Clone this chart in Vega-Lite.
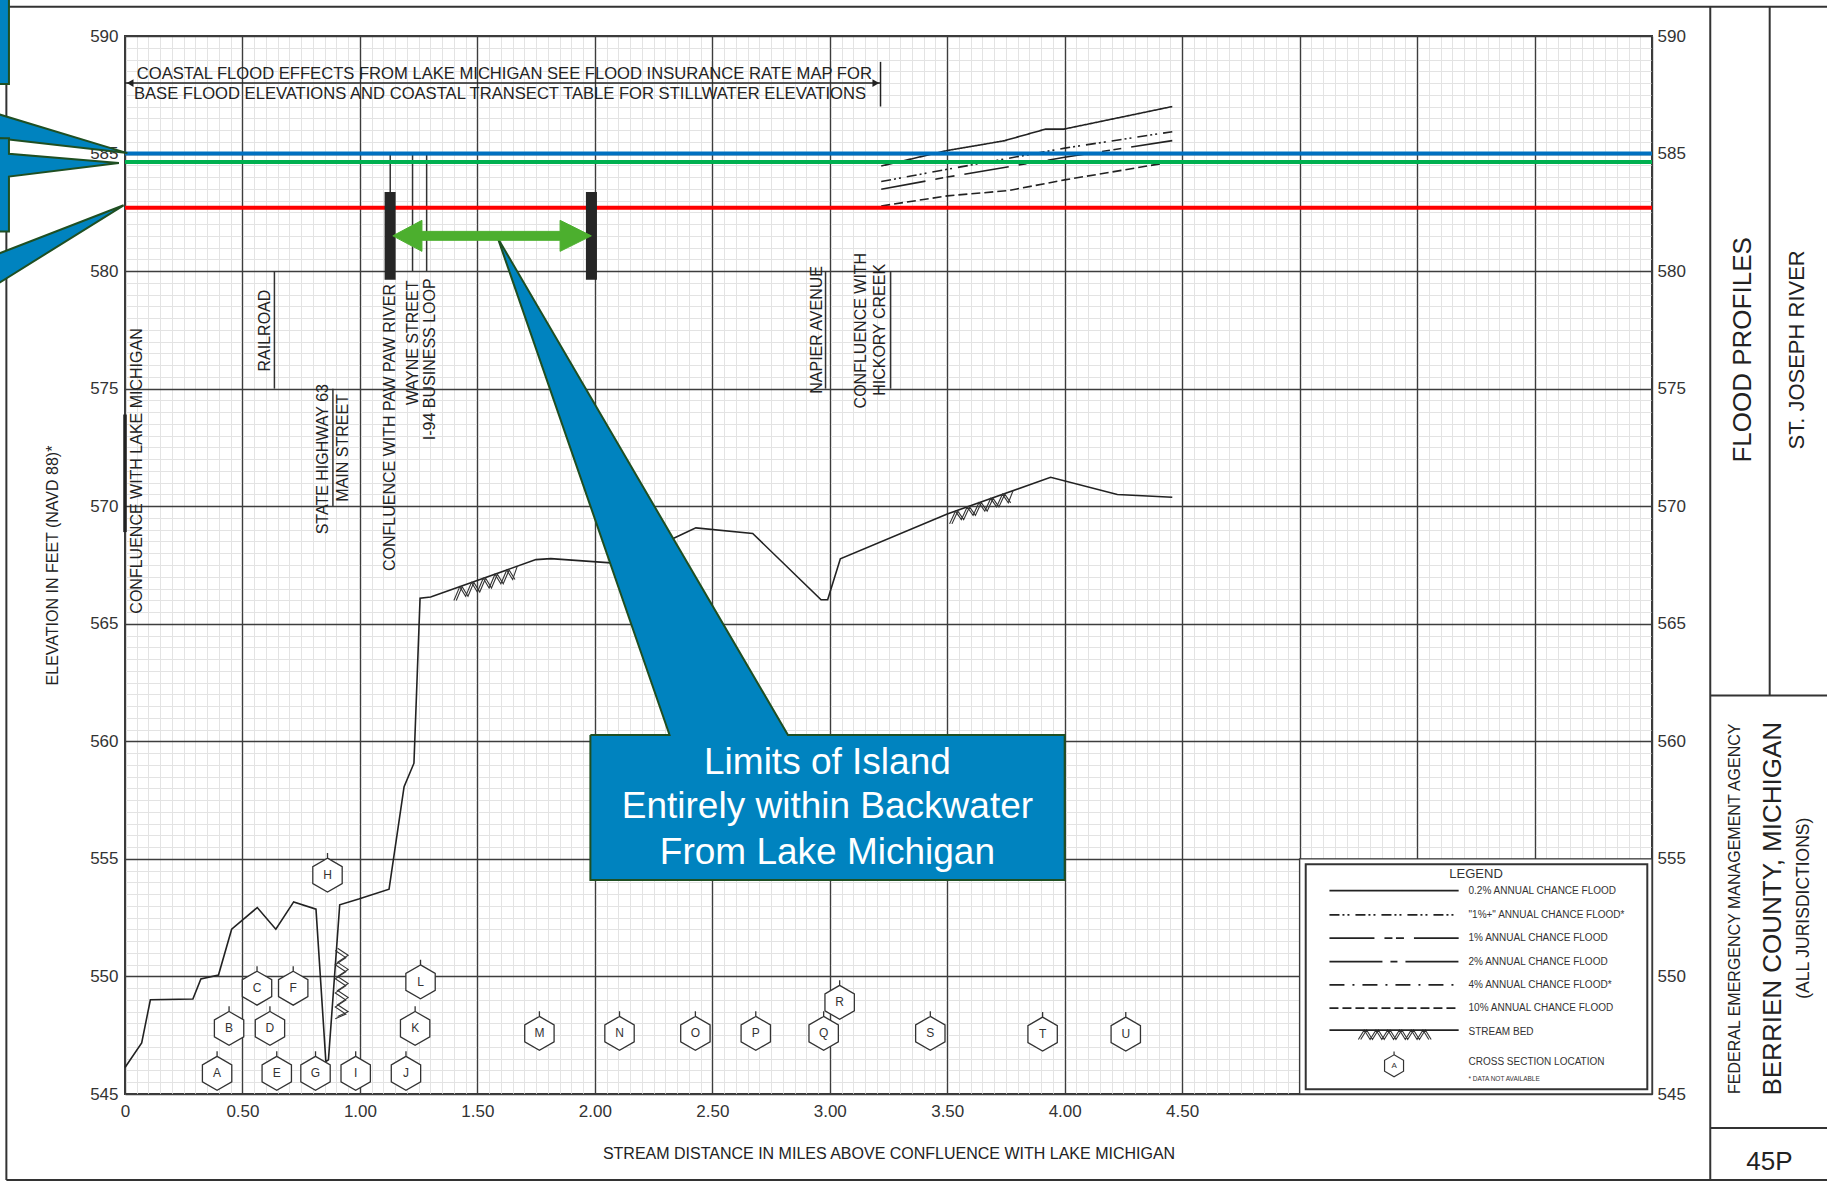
{
"$schema":"https://vega.github.io/schema/vega-lite/v6.json",
"width":1527,"height":1058,
"autosize":{"type":"none"},
"padding":{"left":125,"top":36,"right":175,"bottom":88},
"background":"#ffffff",
"config":{"font":"Liberation Sans","view":{"stroke":"#3a3a3a","strokeWidth":2},"axis":{"labelFont":"Liberation Sans","titleFont":"Liberation Sans"},"text":{"font":"Liberation Sans"}},
"resolve":{"axis":{"x":"independent","y":"independent"}},
"datasets":{
"bed":[{"i":1,"x":0,"y":546.13},{"i":2,"x":0.071,"y":547.17},{"i":3,"x":0.108,"y":549.01},{"i":4,"x":0.289,"y":549.04},{"i":5,"x":0.323,"y":549.89},{"i":6,"x":0.398,"y":550.06},{"i":7,"x":0.454,"y":552.01},{"i":8,"x":0.563,"y":552.93},{"i":9,"x":0.642,"y":552.01},{"i":10,"x":0.718,"y":553.17},{"i":11,"x":0.813,"y":552.86},{"i":12,"x":0.855,"y":546.38},{"i":13,"x":0.866,"y":546.45},{"i":14,"x":0.914,"y":553.05},{"i":15,"x":0.995,"y":553.29},{"i":16,"x":1.124,"y":553.71},{"i":17,"x":1.188,"y":558.07},{"i":18,"x":1.23,"y":559.07},{"i":19,"x":1.256,"y":566.09},{"i":20,"x":1.301,"y":566.14},{"i":21,"x":1.749,"y":567.73},{"i":22,"x":1.8125,"y":567.77},{"i":23,"x":2.068,"y":567.59},{"i":24,"x":2.338,"y":568.65},{"i":25,"x":2.43,"y":569.08},{"i":26,"x":2.672,"y":568.84},{"i":27,"x":2.963,"y":566.02},{"i":28,"x":2.991,"y":566.02},{"i":29,"x":3.045,"y":567.76},{"i":30,"x":3.5,"y":569.67},{"i":31,"x":3.94,"y":571.23},{"i":32,"x":4.224,"y":570.5},{"i":33,"x":4.458,"y":570.38}],
"hatch":[
{"g":"h1a","i":1,"x":0.895,"y":551.1},{"g":"h1a","i":2,"x":0.94,"y":550.8},{"g":"h1a","i":3,"x":0.895,"y":550.5},{"g":"h1a","i":4,"x":0.94,"y":550.2},{"g":"h1a","i":5,"x":0.895,"y":549.9},{"g":"h1a","i":6,"x":0.94,"y":549.6},{"g":"h1a","i":7,"x":0.895,"y":549.3},{"g":"h1a","i":8,"x":0.94,"y":549.0},{"g":"h1a","i":9,"x":0.895,"y":548.7},{"g":"h1a","i":10,"x":0.94,"y":548.4},{"g":"h1a","i":11,"x":0.895,"y":548.2},
{"g":"h1b","i":1,"x":0.905,"y":551.2},{"g":"h1b","i":2,"x":0.95,"y":550.9},{"g":"h1b","i":3,"x":0.905,"y":550.6},{"g":"h1b","i":4,"x":0.95,"y":550.3},{"g":"h1b","i":5,"x":0.905,"y":550.0},{"g":"h1b","i":6,"x":0.95,"y":549.7},{"g":"h1b","i":7,"x":0.905,"y":549.4},{"g":"h1b","i":8,"x":0.95,"y":549.1},{"g":"h1b","i":9,"x":0.905,"y":548.8},{"g":"h1b","i":10,"x":0.95,"y":548.5},{"g":"h1b","i":11,"x":0.905,"y":548.3},
{"g":"h2a","i":1,"x":1.4,"y":565.99},{"g":"h2a","i":2,"x":1.425,"y":566.58},{"g":"h2a","i":3,"x":1.45,"y":566.17},{"g":"h2a","i":4,"x":1.475,"y":566.76},{"g":"h2a","i":5,"x":1.5,"y":566.35},{"g":"h2a","i":6,"x":1.525,"y":566.94},{"g":"h2a","i":7,"x":1.55,"y":566.52},{"g":"h2a","i":8,"x":1.575,"y":567.11},{"g":"h2a","i":9,"x":1.6,"y":566.7},{"g":"h2a","i":10,"x":1.625,"y":567.29},{"g":"h2a","i":11,"x":1.65,"y":566.88},{"g":"h2a","i":12,"x":1.67,"y":567.45},
{"g":"h2b","i":1,"x":1.41,"y":565.99},{"g":"h2b","i":2,"x":1.435,"y":566.58},{"g":"h2b","i":3,"x":1.46,"y":566.17},{"g":"h2b","i":4,"x":1.485,"y":566.76},{"g":"h2b","i":5,"x":1.51,"y":566.35},{"g":"h2b","i":6,"x":1.535,"y":566.94},{"g":"h2b","i":7,"x":1.56,"y":566.52},{"g":"h2b","i":8,"x":1.585,"y":567.11},{"g":"h2b","i":9,"x":1.61,"y":566.7},{"g":"h2b","i":10,"x":1.635,"y":567.29},{"g":"h2b","i":11,"x":1.66,"y":566.88},
{"g":"h3a","i":1,"x":3.51,"y":569.25},{"g":"h3a","i":2,"x":3.535,"y":569.79},{"g":"h3a","i":3,"x":3.56,"y":569.43},{"g":"h3a","i":4,"x":3.585,"y":569.97},{"g":"h3a","i":5,"x":3.61,"y":569.61},{"g":"h3a","i":6,"x":3.635,"y":570.15},{"g":"h3a","i":7,"x":3.66,"y":569.79},{"g":"h3a","i":8,"x":3.685,"y":570.33},{"g":"h3a","i":9,"x":3.71,"y":569.97},{"g":"h3a","i":10,"x":3.735,"y":570.51},{"g":"h3a","i":11,"x":3.76,"y":570.14},{"g":"h3a","i":12,"x":3.78,"y":570.66},
{"g":"h3b","i":1,"x":3.52,"y":569.25},{"g":"h3b","i":2,"x":3.545,"y":569.79},{"g":"h3b","i":3,"x":3.57,"y":569.43},{"g":"h3b","i":4,"x":3.595,"y":569.97},{"g":"h3b","i":5,"x":3.62,"y":569.61},{"g":"h3b","i":6,"x":3.645,"y":570.15},{"g":"h3b","i":7,"x":3.67,"y":569.79},{"g":"h3b","i":8,"x":3.695,"y":570.33},{"g":"h3b","i":9,"x":3.72,"y":569.97},{"g":"h3b","i":10,"x":3.745,"y":570.51},{"g":"h3b","i":11,"x":3.77,"y":570.14},
{"g":"h4a","i":1,"x":5.25,"y":547.32},{"g":"h4a","i":2,"x":5.275,"y":547.72},{"g":"h4a","i":3,"x":5.3,"y":547.32},{"g":"h4a","i":4,"x":5.325,"y":547.72},{"g":"h4a","i":5,"x":5.35,"y":547.32},{"g":"h4a","i":6,"x":5.375,"y":547.72},{"g":"h4a","i":7,"x":5.4,"y":547.32},{"g":"h4a","i":8,"x":5.425,"y":547.72},{"g":"h4a","i":9,"x":5.45,"y":547.32},{"g":"h4a","i":10,"x":5.475,"y":547.72},{"g":"h4a","i":11,"x":5.5,"y":547.32},{"g":"h4a","i":12,"x":5.525,"y":547.72},{"g":"h4a","i":13,"x":5.55,"y":547.32},
{"g":"h4b","i":1,"x":5.26,"y":547.32},{"g":"h4b","i":2,"x":5.285,"y":547.72},{"g":"h4b","i":3,"x":5.31,"y":547.32},{"g":"h4b","i":4,"x":5.335,"y":547.72},{"g":"h4b","i":5,"x":5.36,"y":547.32},{"g":"h4b","i":6,"x":5.385,"y":547.72},{"g":"h4b","i":7,"x":5.41,"y":547.32},{"g":"h4b","i":8,"x":5.435,"y":547.72},{"g":"h4b","i":9,"x":5.46,"y":547.32},{"g":"h4b","i":10,"x":5.485,"y":547.72},{"g":"h4b","i":11,"x":5.51,"y":547.32},{"g":"h4b","i":12,"x":5.535,"y":547.72},{"g":"h4b","i":13,"x":5.56,"y":547.32}
],
"prof":[{"s":"0.2%","i":1,"x":3.219,"y":584.47},{"s":"0.2%","i":2,"x":3.5,"y":585.13},{"s":"0.2%","i":3,"x":3.741,"y":585.54},{"s":"0.2%","i":4,"x":3.919,"y":586.04},{"s":"0.2%","i":5,"x":3.997,"y":586.04},{"s":"0.2%","i":6,"x":4.458,"y":587.0},
{"s":"1%+","i":1,"x":3.219,"y":583.81},{"s":"1%+","i":2,"x":3.5,"y":584.33},{"s":"1%+","i":3,"x":4.0,"y":585.23},{"s":"1%+","i":4,"x":4.458,"y":585.93},
{"s":"1%","i":1,"x":3.219,"y":583.48},{"s":"1%","i":2,"x":3.5,"y":584.0},{"s":"1%","i":3,"x":4.0,"y":584.84},{"s":"1%","i":4,"x":4.458,"y":585.55},
{"s":"10%","i":1,"x":3.219,"y":582.77},{"s":"10%","i":2,"x":3.5,"y":583.2},{"s":"10%","i":3,"x":3.756,"y":583.42},{"s":"10%","i":4,"x":4.0,"y":583.88},{"s":"10%","i":5,"x":4.423,"y":584.59}],
"leg":[{"s":"0.2%","x":5.127,"x2":5.677,"y":553.65},{"s":"1%+","x":5.127,"x2":5.677,"y":552.62},{"s":"1%","x":5.127,"x2":5.677,"y":551.63},{"s":"2%","x":5.127,"x2":5.677,"y":550.63},{"s":"4%","x":5.127,"x2":5.677,"y":549.64},{"s":"10%","x":5.127,"x2":5.677,"y":548.65}],
"leglab":[{"t":"0.2% ANNUAL CHANCE FLOOD","x":5.719,"y":553.65},{"t":"\"1%+\" ANNUAL CHANCE FLOOD*","x":5.719,"y":552.62},{"t":"1% ANNUAL CHANCE FLOOD","x":5.719,"y":551.63},{"t":"2% ANNUAL CHANCE FLOOD","x":5.719,"y":550.63},{"t":"4% ANNUAL CHANCE FLOOD*","x":5.719,"y":549.64},{"t":"10% ANNUAL CHANCE FLOOD","x":5.719,"y":548.65},{"t":"STREAM BED","x":5.719,"y":547.63},{"t":"CROSS SECTION LOCATION","x":5.719,"y":546.38}],
"hex":[{"id":"A","x":0.392,"y":545.88},{"id":"B","x":0.443,"y":547.79},{"id":"C","x":0.562,"y":549.5},{"id":"D","x":0.617,"y":547.79},{"id":"E","x":0.646,"y":545.88},{"id":"F","x":0.716,"y":549.5},{"id":"G","x":0.811,"y":545.88},{"id":"H","x":0.862,"y":554.31},{"id":"I","x":0.982,"y":545.88},{"id":"J","x":1.196,"y":545.88},{"id":"K","x":1.235,"y":547.79},{"id":"L","x":1.258,"y":549.77},{"id":"M","x":1.764,"y":547.58},{"id":"N","x":2.105,"y":547.58},{"id":"O","x":2.428,"y":547.58},{"id":"P","x":2.685,"y":547.58},{"id":"Q","x":2.974,"y":547.58},{"id":"R","x":3.042,"y":548.9},{"id":"S","x":3.428,"y":547.58},{"id":"T","x":3.906,"y":547.55},{"id":"U","x":4.26,"y":547.55}],
"sitelab":[{"t":"CONFLUENCE WITH LAKE MICHIGAN","x":0.053,"y":571.5},{"t":"RAILROAD","x":0.597,"y":577.47},{"t":"STATE  HIGHWAY 63","x":0.842,"y":572.0},{"t":"MAIN STREET","x":0.926,"y":572.48},{"t":"CONFLUENCE WITH PAW PAW RIVER","x":1.129,"y":573.35},{"t":"WAYNE STREET","x":1.225,"y":576.95},{"t":"I-94 BUSINESS LOOP","x":1.3,"y":576.25},{"t":"NAPIER AVENUE","x":2.944,"y":577.5},{"t":"CONFLUENCE WITH","x":3.131,"y":577.47},{"t":"HICKORY CREEK","x":3.213,"y":577.5}],
"siterule":[{"x":0.636,"y":580,"y2":575},{"x":0.885,"y":575,"y2":570},{"x":1.129,"y":585,"y2":580},{"x":1.224,"y":585,"y2":580},{"x":1.284,"y":585,"y2":580},{"x":2.982,"y":580,"y2":575},{"x":3.259,"y":580,"y2":575}],
"frame":[{"x":-0.505,"x2":7.4,"y":591.24,"y2":591.24},{"x":-0.505,"x2":-0.505,"y":591.24,"y2":541.34},{"x":-0.505,"x2":7.4,"y":541.34,"y2":541.34},{"x":6.748,"x2":6.748,"y":591.24,"y2":541.34},{"x":7.001,"x2":7.001,"y":591.24,"y2":561.95},{"x":6.748,"x2":7.4,"y":561.95,"y2":561.95},{"x":6.748,"x2":7.4,"y":543.55,"y2":543.55}],
"callout":[
{"g":"c1","i":1,"x":-0.6,"y":592.5},{"g":"c1","i":2,"x":-0.494,"y":592.5},{"g":"c1","i":3,"x":-0.494,"y":587.96},{"g":"c1","i":4,"x":-0.6,"y":587.96},{"g":"c1","i":5,"x":-0.6,"y":592.5},
{"g":"c2","i":1,"x":-0.6,"y":586.86},{"g":"c2","i":2,"x":0.01,"y":585.02},{"g":"c2","i":3,"x":-0.6,"y":585.72},{"g":"c2","i":4,"x":-0.6,"y":586.86},
{"g":"c3","i":1,"x":-0.6,"y":585.65},{"g":"c3","i":2,"x":-0.494,"y":585.65},{"g":"c3","i":3,"x":-0.494,"y":584.99},{"g":"c3","i":4,"x":-0.026,"y":584.6},{"g":"c3","i":5,"x":-0.494,"y":584.02},{"g":"c3","i":6,"x":-0.494,"y":581.68},{"g":"c3","i":7,"x":-0.6,"y":581.68},{"g":"c3","i":8,"x":-0.6,"y":585.65},
{"g":"c4","i":1,"x":-0.6,"y":580.5},{"g":"c4","i":2,"x":-0.006,"y":582.8},{"g":"c4","i":3,"x":-0.6,"y":579.1},{"g":"c4","i":4,"x":-0.6,"y":580.5},
{"g":"main","i":1,"x":1.981,"y":560.27},{"g":"main","i":2,"x":2.318,"y":560.27},{"g":"main","i":3,"x":1.587,"y":581.4},{"g":"main","i":4,"x":2.822,"y":560.27},{"g":"main","i":5,"x":4.0,"y":560.27},{"g":"main","i":6,"x":4.0,"y":554.1},{"g":"main","i":7,"x":1.981,"y":554.1},{"g":"main","i":8,"x":1.981,"y":560.27}],
"garrow":[{"i":1,"x":1.14,"y":581.5},{"i":2,"x":1.264,"y":582.16},{"i":3,"x":1.264,"y":581.69},{"i":4,"x":1.852,"y":581.69},{"i":5,"x":1.852,"y":582.16},{"i":6,"x":1.985,"y":581.5},{"i":7,"x":1.852,"y":580.84},{"i":8,"x":1.852,"y":581.31},{"i":9,"x":1.264,"y":581.31},{"i":10,"x":1.264,"y":580.84},{"i":11,"x":1.14,"y":581.5}]
},
"layer":[
{"data":{"values":[{"x":5.0,"x2":6.5,"y":545,"y2":555}]},
 "mark":{"type":"rect","fill":"#ffffff","stroke":"#3a3a3a","strokeWidth":1.4},
 "encoding":{
  "x":{"field":"x","type":"quantitative","scale":{"domain":[0,6.5],"nice":false,"zero":false},"axis":{"orient":"bottom","tickCount":130,"grid":true,"gridColor":"#e3e3e3","gridWidth":1,"labels":false,"ticks":false,"domain":false,"title":null}},
  "x2":{"field":"x2"},
  "y":{"field":"y","type":"quantitative","scale":{"domain":[545,590],"nice":false,"zero":false},"axis":{"orient":"left","tickCount":90,"grid":true,"gridColor":"#e3e3e3","gridWidth":1,"gridDash":[115.46,2],"gridDashOffset":116.46,"labels":false,"ticks":false,"domain":false,"title":null}},
  "y2":{"field":"y2"}}},
{"data":{"values":[{"x":5.026,"x2":6.48,"y":545.2,"y2":554.77}]},
 "mark":{"type":"rect","fillOpacity":0,"stroke":"#333333","strokeWidth":2},
 "encoding":{
  "x":{"field":"x","type":"quantitative","scale":{"domain":[0,6.5],"nice":false,"zero":false},"axis":null},
  "x2":{"field":"x2"},
  "y":{"field":"y","type":"quantitative","scale":{"domain":[545,590],"nice":false,"zero":false},"axis":null},
  "y2":{"field":"y2"}}},
{"data":{"name":"bed"},
 "mark":{"type":"line","color":"#222222","strokeWidth":1.6},
 "encoding":{
  "x":{"field":"x","type":"quantitative","scale":{"domain":[0,6.5],"nice":false,"zero":false},"axis":{"orient":"bottom","values":[0,0.5,1,1.5,2,2.5,3,3.5,4,4.5,5,5.5,6,6.5],"grid":true,"gridColor":"#3d3d3d","gridWidth":1.4,"ticks":false,"domain":false,"labelExpr":"datum.value > 4.6 ? '' : (datum.value == 0 ? '0' : format(datum.value, '.2f'))","labelFontSize":17,"labelColor":"#333333","labelPadding":9,"labelFlush":false,"labelOverlap":false,"title":"STREAM DISTANCE IN MILES ABOVE CONFLUENCE WITH LAKE MICHIGAN","titleFontSize":16,"titleFontWeight":"normal","titleColor":"#222222","titlePadding":26}},
  "y":{"field":"y","type":"quantitative","scale":{"domain":[545,590],"nice":false,"zero":false},"axis":{"orient":"left","values":[545,550,555,560,565,570,575,580,585,590],"grid":true,"gridColor":"#3d3d3d","gridWidth":1.4,"ticks":false,"domain":false,"labelFontSize":17,"labelColor":"#333333","labelPadding":7,"title":"ELEVATION IN FEET (NAVD 88)*","titleFontSize":16,"titleFontWeight":"normal","titleColor":"#222222","titlePadding":29}},
  "order":{"field":"i","type":"quantitative"}}},
{"data":{"name":"hatch"},
 "mark":{"type":"line","color":"#333333","strokeWidth":1.1},
 "encoding":{
  "x":{"field":"x","type":"quantitative","scale":{"domain":[0,6.5],"nice":false,"zero":false},"axis":null},
  "y":{"field":"y","type":"quantitative","scale":{"domain":[545,590],"nice":false,"zero":false},"axis":null},
  "detail":{"field":"g","type":"nominal"},
  "order":{"field":"i","type":"quantitative"}}},
{"data":{"name":"prof"},
 "mark":{"type":"line","color":"#222222","strokeWidth":1.6},
 "encoding":{
  "x":{"field":"x","type":"quantitative","scale":{"domain":[0,6.5],"nice":false,"zero":false},"axis":null},
  "y":{"field":"y","type":"quantitative","scale":{"domain":[545,590],"nice":false,"zero":false},"axis":null},
  "strokeDash":{"field":"s","type":"nominal","scale":{"domain":["0.2%","1%+","1%","2%","4%","10%"],"range":[[1,0],[10,3,2,3,2,6],[45,10,8,3.5,8,10],[53,8,7,8],[15,8,2,8],[9,4]]},"legend":null},
  "order":{"field":"i","type":"quantitative"}}},
{"data":{"name":"siterule"},
 "mark":{"type":"rule","color":"#333333","strokeWidth":1.5},
 "encoding":{
  "x":{"field":"x","type":"quantitative","scale":{"domain":[0,6.5],"nice":false,"zero":false},"axis":null},
  "y":{"field":"y","type":"quantitative","scale":{"domain":[545,590],"nice":false,"zero":false},"axis":null},
  "y2":{"field":"y2"}}},
{"data":{"values":[{"x":0,"y":573.9,"y2":568.9}]},
 "mark":{"type":"rule","color":"#222222","strokeWidth":3.5},
 "encoding":{
  "x":{"field":"x","type":"quantitative","scale":{"domain":[0,6.5],"nice":false,"zero":false},"axis":null},
  "y":{"field":"y","type":"quantitative","scale":{"domain":[545,590],"nice":false,"zero":false},"axis":null},
  "y2":{"field":"y2"}}},
{"data":{"values":[{"x":0,"x2":3.216,"y":588.0,"y2":588.0},{"x":3.216,"x2":3.216,"y":588.9,"y2":587.0}]},
 "mark":{"type":"rule","color":"#222222","strokeWidth":1.5},
 "encoding":{
  "x":{"field":"x","type":"quantitative","scale":{"domain":[0,6.5],"nice":false,"zero":false},"axis":null},
  "x2":{"field":"x2"},
  "y":{"field":"y","type":"quantitative","scale":{"domain":[545,590],"nice":false,"zero":false},"axis":null},
  "y2":{"field":"y2"}}},
{"data":{"values":[{"d":"l","x":0.022,"y":588.0},{"d":"r","x":3.196,"y":588.0}]},
 "mark":{"type":"point","filled":true,"color":"#222222","size":60,"opacity":1},
 "encoding":{
  "x":{"field":"x","type":"quantitative","scale":{"domain":[0,6.5],"nice":false,"zero":false},"axis":null},
  "y":{"field":"y","type":"quantitative","scale":{"domain":[545,590],"nice":false,"zero":false},"axis":null},
  "shape":{"field":"d","type":"nominal","scale":{"domain":["l","r"],"range":["triangle-left","triangle-right"]},"legend":null}}},
{"data":{"name":"sitelab"},
 "mark":{"type":"text","angle":270,"fontSize":16,"color":"#222222","align":"center","baseline":"middle"},
 "encoding":{
  "x":{"field":"x","type":"quantitative","scale":{"domain":[0,6.5],"nice":false,"zero":false},"axis":null},
  "y":{"field":"y","type":"quantitative","scale":{"domain":[545,590],"nice":false,"zero":false},"axis":null},
  "text":{"field":"t"}}},
{"data":{"values":[{"t":"COASTAL FLOOD EFFECTS FROM LAKE MICHIGAN SEE FLOOD INSURANCE RATE MAP FOR","x":0.05,"y":588.39},{"t":"BASE FLOOD ELEVATIONS AND COASTAL TRANSECT TABLE FOR STILLWATER ELEVATIONS","x":0.038,"y":587.54}]},
 "mark":{"type":"text","fontSize":16.6,"color":"#222222","align":"left","baseline":"middle"},
 "encoding":{
  "x":{"field":"x","type":"quantitative","scale":{"domain":[0,6.5],"nice":false,"zero":false},"axis":null},
  "y":{"field":"y","type":"quantitative","scale":{"domain":[545,590],"nice":false,"zero":false},"axis":null},
  "text":{"field":"t"}}},
{"data":{"name":"hex"},
 "mark":{"type":"point","shape":"M0,-1L0.866,-0.5L0.866,0.5L0,1L-0.866,0.5L-0.866,-0.5ZM0,-1L0,-1.3","size":1150,"filled":true,"fill":"#ffffff","stroke":"#333333","strokeWidth":1.3,"opacity":1},
 "encoding":{
  "x":{"field":"x","type":"quantitative","scale":{"domain":[0,6.5],"nice":false,"zero":false},"axis":null},
  "y":{"field":"y","type":"quantitative","scale":{"domain":[545,590],"nice":false,"zero":false},"axis":null}}},
{"data":{"name":"hex"},
 "mark":{"type":"text","fontSize":12,"color":"#333333","align":"center","baseline":"middle"},
 "encoding":{
  "x":{"field":"x","type":"quantitative","scale":{"domain":[0,6.5],"nice":false,"zero":false},"axis":null},
  "y":{"field":"y","type":"quantitative","scale":{"domain":[545,590],"nice":false,"zero":false},"axis":null},
  "text":{"field":"id"}}},
{"data":{"name":"leg"},
 "mark":{"type":"rule","color":"#222222","strokeWidth":1.7},
 "encoding":{
  "x":{"field":"x","type":"quantitative","scale":{"domain":[0,6.5],"nice":false,"zero":false},"axis":null},
  "x2":{"field":"x2"},
  "y":{"field":"y","type":"quantitative","scale":{"domain":[545,590],"nice":false,"zero":false},"axis":null},
  "strokeDash":{"field":"s","type":"nominal","scale":{"domain":["0.2%","1%+","1%","2%","4%","10%"],"range":[[1,0],[10,3,2,3,2,6],[45,10,8,3.5,8,10],[53,8,7,8],[15,8,2,8],[9,4]]},"legend":null}}},
{"data":{"values":[{"x":5.127,"x2":5.677,"y":547.72}]},
 "mark":{"type":"rule","color":"#222222","strokeWidth":1.7},
 "encoding":{
  "x":{"field":"x","type":"quantitative","scale":{"domain":[0,6.5],"nice":false,"zero":false},"axis":null},
  "x2":{"field":"x2"},
  "y":{"field":"y","type":"quantitative","scale":{"domain":[545,590],"nice":false,"zero":false},"axis":null}}},
{"data":{"values":[{"id":"A","x":5.402,"y":546.2}]},
 "mark":{"type":"point","shape":"M0,-1L0.866,-0.5L0.866,0.5L0,1L-0.866,0.5L-0.866,-0.5ZM0,-1L0,-1.3","size":480,"filled":true,"fill":"#ffffff","stroke":"#333333","strokeWidth":1.2,"opacity":1},
 "encoding":{
  "x":{"field":"x","type":"quantitative","scale":{"domain":[0,6.5],"nice":false,"zero":false},"axis":null},
  "y":{"field":"y","type":"quantitative","scale":{"domain":[545,590],"nice":false,"zero":false},"axis":null}}},
{"data":{"values":[{"id":"A","x":5.402,"y":546.2}]},
 "mark":{"type":"text","fontSize":8,"color":"#333333","align":"center","baseline":"middle"},
 "encoding":{
  "x":{"field":"x","type":"quantitative","scale":{"domain":[0,6.5],"nice":false,"zero":false},"axis":null},
  "y":{"field":"y","type":"quantitative","scale":{"domain":[545,590],"nice":false,"zero":false},"axis":null},
  "text":{"field":"id"}}},
{"data":{"name":"leglab"},
 "mark":{"type":"text","fontSize":10,"color":"#333333","align":"left","baseline":"middle"},
 "encoding":{
  "x":{"field":"x","type":"quantitative","scale":{"domain":[0,6.5],"nice":false,"zero":false},"axis":null},
  "y":{"field":"y","type":"quantitative","scale":{"domain":[545,590],"nice":false,"zero":false},"axis":null},
  "text":{"field":"t"}}},
{"data":{"values":[{"t":"LEGEND","x":5.751,"y":554.37}]},
 "mark":{"type":"text","fontSize":13,"color":"#333333","align":"center","baseline":"middle"},
 "encoding":{
  "x":{"field":"x","type":"quantitative","scale":{"domain":[0,6.5],"nice":false,"zero":false},"axis":null},
  "y":{"field":"y","type":"quantitative","scale":{"domain":[545,590],"nice":false,"zero":false},"axis":null},
  "text":{"field":"t"}}},
{"data":{"values":[{"t":"* DATA NOT AVAILABLE","x":5.719,"y":545.62}]},
 "mark":{"type":"text","fontSize":6.5,"color":"#333333","align":"left","baseline":"middle"},
 "encoding":{
  "x":{"field":"x","type":"quantitative","scale":{"domain":[0,6.5],"nice":false,"zero":false},"axis":null},
  "y":{"field":"y","type":"quantitative","scale":{"domain":[545,590],"nice":false,"zero":false},"axis":null},
  "text":{"field":"t"}}},
{"data":{"name":"frame"},
 "mark":{"type":"rule","color":"#333333","strokeWidth":2},
 "encoding":{
  "x":{"field":"x","type":"quantitative","scale":{"domain":[0,6.5],"nice":false,"zero":false},"axis":null},
  "x2":{"field":"x2"},
  "y":{"field":"y","type":"quantitative","scale":{"domain":[545,590],"nice":false,"zero":false},"axis":null},
  "y2":{"field":"y2"}}},
{"data":{"values":[{"t":"FLOOD PROFILES","x":6.886,"y":576.65}]},
 "mark":{"type":"text","angle":270,"fontSize":26,"color":"#222222","align":"center","baseline":"middle"},
 "encoding":{
  "x":{"field":"x","type":"quantitative","scale":{"domain":[0,6.5],"nice":false,"zero":false},"axis":null},
  "y":{"field":"y","type":"quantitative","scale":{"domain":[545,590],"nice":false,"zero":false},"axis":null},
  "text":{"field":"t"}}},
{"data":{"values":[{"t":"ST. JOSEPH RIVER","x":7.118,"y":576.65}]},
 "mark":{"type":"text","angle":270,"fontSize":22,"color":"#222222","align":"center","baseline":"middle"},
 "encoding":{
  "x":{"field":"x","type":"quantitative","scale":{"domain":[0,6.5],"nice":false,"zero":false},"axis":null},
  "y":{"field":"y","type":"quantitative","scale":{"domain":[545,590],"nice":false,"zero":false},"axis":null},
  "text":{"field":"t"}}},
{"data":{"values":[{"t":"FEDERAL EMERGENCY MANAGEMENT AGENCY","x":6.852,"y":552.88}]},
 "mark":{"type":"text","angle":270,"fontSize":16,"color":"#222222","align":"center","baseline":"middle"},
 "encoding":{
  "x":{"field":"x","type":"quantitative","scale":{"domain":[0,6.5],"nice":false,"zero":false},"axis":null},
  "y":{"field":"y","type":"quantitative","scale":{"domain":[545,590],"nice":false,"zero":false},"axis":null},
  "text":{"field":"t"}}},
{"data":{"values":[{"t":"BERRIEN COUNTY, MICHIGAN","x":7.013,"y":552.88}]},
 "mark":{"type":"text","angle":270,"fontSize":26,"color":"#222222","align":"center","baseline":"middle"},
 "encoding":{
  "x":{"field":"x","type":"quantitative","scale":{"domain":[0,6.5],"nice":false,"zero":false},"axis":null},
  "y":{"field":"y","type":"quantitative","scale":{"domain":[545,590],"nice":false,"zero":false},"axis":null},
  "text":{"field":"t"}}},
{"data":{"values":[{"t":"(ALL JURISDICTIONS)","x":7.148,"y":552.9}]},
 "mark":{"type":"text","angle":270,"fontSize":17.5,"color":"#222222","align":"center","baseline":"middle"},
 "encoding":{
  "x":{"field":"x","type":"quantitative","scale":{"domain":[0,6.5],"nice":false,"zero":false},"axis":null},
  "y":{"field":"y","type":"quantitative","scale":{"domain":[545,590],"nice":false,"zero":false},"axis":null},
  "text":{"field":"t"}}},
{"data":{"values":[{"t":"45P","x":7.0,"y":542.12}]},
 "mark":{"type":"text","fontSize":26,"color":"#222222","align":"center","baseline":"middle"},
 "encoding":{
  "x":{"field":"x","type":"quantitative","scale":{"domain":[0,6.5],"nice":false,"zero":false},"axis":null},
  "y":{"field":"y","type":"quantitative","scale":{"domain":[545,590],"nice":false,"zero":false},"axis":null},
  "text":{"field":"t"}}},
{"data":{"values":[{"c":"blue","y":585.0},{"c":"green","y":584.64},{"c":"red","y":582.7}]},
 "mark":{"type":"rule","strokeWidth":4},
 "encoding":{
  "y":{"field":"y","type":"quantitative","scale":{"domain":[545,590],"nice":false,"zero":false},"axis":{"orient":"right","values":[545,550,555,560,565,570,575,580,585,590],"grid":false,"ticks":false,"domain":false,"labelFontSize":17,"labelColor":"#333333","labelPadding":5,"title":null}},
  "color":{"field":"c","type":"nominal","scale":{"domain":["blue","green","red"],"range":["#0070C0","#00B050","#FF0000"]},"legend":null}}},
{"data":{"values":[{"x":1.105,"x2":1.152,"y":579.63,"y2":583.37},{"x":1.962,"x2":2.009,"y":579.63,"y2":583.37}]},
 "mark":{"type":"rect","color":"#262626"},
 "encoding":{
  "x":{"field":"x","type":"quantitative","scale":{"domain":[0,6.5],"nice":false,"zero":false},"axis":null},
  "x2":{"field":"x2"},
  "y":{"field":"y","type":"quantitative","scale":{"domain":[545,590],"nice":false,"zero":false},"axis":null},
  "y2":{"field":"y2"}}},
{"data":{"name":"callout"},
 "mark":{"type":"line","filled":true,"fill":"#0083BF","stroke":"#1F4F22","strokeWidth":2,"strokeJoin":"miter"},
 "encoding":{
  "x":{"field":"x","type":"quantitative","scale":{"domain":[0,6.5],"nice":false,"zero":false},"axis":null},
  "y":{"field":"y","type":"quantitative","scale":{"domain":[545,590],"nice":false,"zero":false},"axis":null},
  "detail":{"field":"g","type":"nominal"},
  "order":{"field":"i","type":"quantitative"}}},
{"data":{"values":[{"t":"Limits of Island","x":2.99,"y":559.07},{"t":"Entirely within Backwater","x":2.99,"y":557.19},{"t":"From Lake Michigan","x":2.99,"y":555.26}]},
 "mark":{"type":"text","fontSize":37,"color":"#ffffff","align":"center","baseline":"middle"},
 "encoding":{
  "x":{"field":"x","type":"quantitative","scale":{"domain":[0,6.5],"nice":false,"zero":false},"axis":null},
  "y":{"field":"y","type":"quantitative","scale":{"domain":[545,590],"nice":false,"zero":false},"axis":null},
  "text":{"field":"t"}}},
{"data":{"name":"garrow"},
 "mark":{"type":"line","filled":true,"fill":"#4CAF2E","stroke":"#4CAF2E","strokeWidth":1},
 "encoding":{
  "x":{"field":"x","type":"quantitative","scale":{"domain":[0,6.5],"nice":false,"zero":false},"axis":null},
  "y":{"field":"y","type":"quantitative","scale":{"domain":[545,590],"nice":false,"zero":false},"axis":null},
  "order":{"field":"i","type":"quantitative"}}}
]
}
